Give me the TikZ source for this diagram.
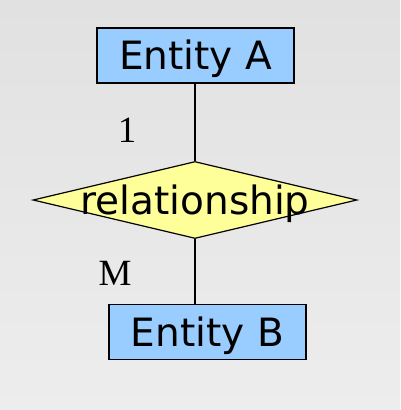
\documentclass[tikz,border=0pt]{standalone}
\usepackage{fontspec}
\setmainfont{DejaVu Sans}
\newfontfamily\serifnum{Liberation Serif}
\usetikzlibrary{shapes.geometric}
\definecolor{entblue}{HTML}{99CCFF}
\definecolor{relyellow}{HTML}{FFFF99}
\definecolor{bgtop}{HTML}{E1E1E1}
\definecolor{bgbot}{HTML}{EDEDED}
\tikzset{
  bigsans/.style={font=\fontsize{39}{41}\selectfont},
  entity/.style={draw=black, line width=1.2pt, fill=entblue, minimum width=197pt, minimum height=55pt, inner sep=0pt,
    bigsans, text height=28.4pt, text depth=0pt},
  relation/.style={draw=black, line width=1.2pt, fill=relyellow, diamond, minimum width=324pt, minimum height=77pt, inner sep=0pt},
  conn/.style={draw=black, line width=1.2pt},
  card/.style={font=\serifnum\fontsize{37}{39}\selectfont, inner sep=0pt, text height=25pt, text depth=0pt}
}
\begin{document}
\begin{tikzpicture}[x=1pt,y=1pt]
  \shade[top color=bgtop, bottom color=bgbot] (0,0) rectangle (400,-410);
  \useasboundingbox (0,0) rectangle (400,-410);
  \node[entity] (A) at (195.5,-55.5) {Entity A};
  \node[relation, label={[bigsans, text height=28.5pt, text depth=0pt, inner sep=0pt]center:relationship}] (R) at (195,-200) {};
  \node[entity] (B) at (207.5,-332) {Entity B};
  \node[card] (one) at (127,-130) {1};
  \node[card] (m) at (115,-273) {M};
  \draw[conn] (R.north) -- (R.north |- A.south);
  \draw[conn] (R.south) -- (R.south |- B.north);
\end{tikzpicture}
\end{document}
